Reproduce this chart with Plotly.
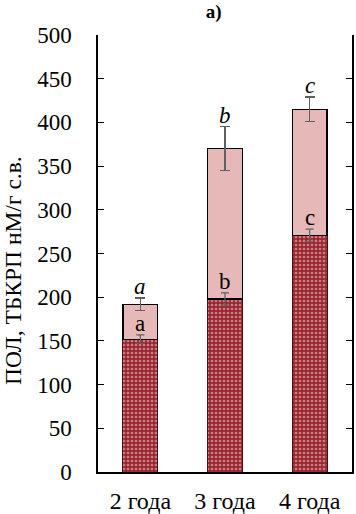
import plotly.graph_objects as go

categories = ["2 года", "3 года", "4 года"]
lower = [152, 198, 271]
lower_err = [5, 7, 7]
upper = [40, 172, 144]
upper_err = [7, 25, 14]
lower_letters = ["a", "b", "c"]
upper_letters = ["a", "b", "c"]
y_title = "ПОЛ, ТБКРП нМ/г с.в."

FONT = "Liberation Serif"

fig = go.Figure()
fig.add_trace(go.Bar(
    x=categories, y=lower,
    marker=dict(color="#9A2630", line=dict(color="#4a1015", width=1),
                pattern=dict(shape=".", fgcolor="#F6DADA", size=4, solidity=0.35)),
    showlegend=False,
))
fig.add_trace(go.Bar(
    x=categories, y=upper,
    marker=dict(color="#E6B8B7", line=dict(color="black", width=1.2)),
    error_y=dict(type="data", array=upper_err, color="#606060", thickness=1.2, width=5),
    showlegend=False,
))
# error bars of the lower segment drawn on top
fig.add_trace(go.Scatter(
    x=categories, y=lower, mode="markers",
    marker=dict(size=1, color="rgba(0,0,0,0)"),
    error_y=dict(type="data", array=lower_err, color="#606060", thickness=1.2, width=4),
    showlegend=False, hoverinfo="skip",
))

annotations = []
for i, c in enumerate(categories):
    annotations.append(dict(x=c, y=lower[i] + lower_err[i], text=lower_letters[i],
                            showarrow=False, yanchor="bottom", yshift=-3,
                            font=dict(family=FONT, size=23, color="black")))
    total = lower[i] + upper[i]
    annotations.append(dict(x=c, y=total + upper_err[i], text="<i>" + upper_letters[i] + "</i>",
                            showarrow=False, yanchor="bottom", yshift=-3,
                            font=dict(family=FONT, size=23, color="black")))
annotations.append(dict(xref="paper", yref="paper", x=-0.335, y=0.462, text=y_title,
                        textangle=-90, showarrow=False, xanchor="center", yanchor="middle",
                        font=dict(family=FONT, size=23.5, color="black")))

fig.update_layout(
    barmode="stack",
    bargap=0.59,
    width=356, height=514,
    margin=dict(l=98, r=4, t=35, b=42),
    plot_bgcolor="white", paper_bgcolor="white",
    font=dict(family=FONT, size=23, color="black"),
    title=dict(text="<b>a)</b>", x=0.6, xanchor="center", y=0.99, yanchor="top",
               font=dict(family=FONT, size=19, color="black")),
    annotations=annotations,
    xaxis=dict(showline=True, linecolor="black", linewidth=1.5, ticks="",
               ticklabelstandoff=6, automargin=False,
               tickfont=dict(family=FONT, size=24)),
    yaxis=dict(range=[0, 500], dtick=50, showgrid=False, zeroline=False,
               showline=True, linecolor="black", linewidth=1.5,
               ticks="inside", ticklen=6, tickcolor="black", mirror="ticks",
               ticklabelstandoff=20, automargin=False,
               tickfont=dict(family=FONT, size=23)),
)

fig.write_html("out.html", config={"displayModeBar": False},
               post_script="document.body.style.margin='0';document.body.style.overflow='hidden';")
